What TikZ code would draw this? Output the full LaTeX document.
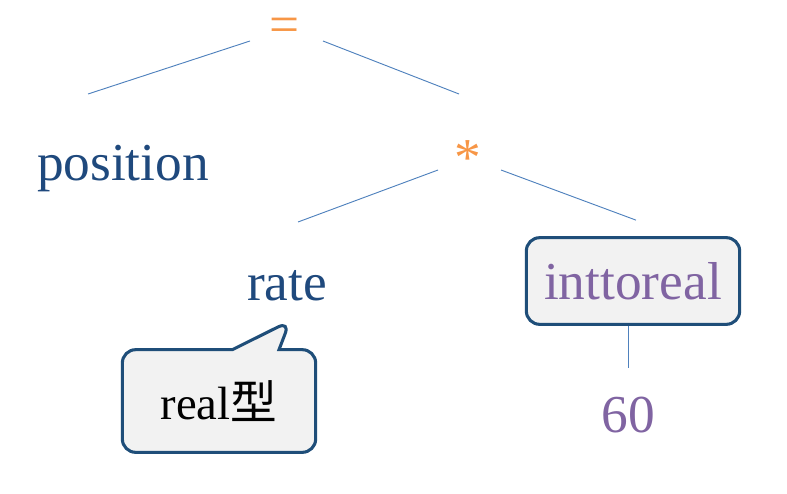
\documentclass[tikz,border=0pt]{standalone}
\usepackage{fontspec}
\setmainfont{Liberation Serif}
\newfontfamily\cjk{Noto Sans CJK JP}
\usetikzlibrary{calc,shapes.callouts,positioning}
\definecolor{treeblue}{HTML}{1F497D}
\definecolor{oporange}{HTML}{F79646}
\definecolor{convpurple}{HTML}{8064A2}
\definecolor{edgeblue}{HTML}{4F81BD}
\definecolor{boxgray}{HTML}{F2F2F2}
\definecolor{boxborder}{HTML}{1F4E79}

\begin{document}
\begin{tikzpicture}[x=0.75pt,y=-0.75pt,every node/.style={font=\fontsize{40}{48}\selectfont,inner sep=0pt},
  leaf/.style={text=treeblue,anchor=base},
  op/.style={text=oporange},
  conv/.style={text=convpurple},
  edge/.style={draw=edgeblue,line width=0.7pt},
  framed/.style={fill=boxgray,draw=boxborder,line width=2.3pt,rounded corners=10pt}]
\useasboundingbox (0,0) rectangle (787,493);
\node[op] (eq) at (285,30) {=};
\node[leaf] (pos) at (123,180) {position};
\node[op] (mul) at (468,158) {*};
\node[leaf] (rate) at (287,300) {rate};
\node[conv,framed,minimum width=160pt,minimum height=65pt] (itr) at (633,281) {inttoreal};
\node[conv,anchor=base] (sixty) at (628,432) {60};
\node[framed,rectangle callout,callout absolute pointer={($(rate.base)+(3,21)$)},callout pointer width=35pt,
  minimum width=145pt,minimum height=77pt,font=\fontsize{35}{40}\selectfont] (note) at (219,401) {real{\cjk 型}};
\draw[edge] ($(eq)+(-35,11)$)--($(pos.base)+(-35,-86)$);
\draw[edge] ($(eq)+(38,11)$)--($(mul)+(-9,-64)$);
\draw[edge] ($(mul)+(-30,12)$)--($(rate.base)+(11,-78)$);
\draw[edge] ($(mul)+(33,12)$)--($(itr.north)+(3,-16)$);
\draw[edge] ($(itr.south)+(-5,0)$)--($(sixty.base)+(0,-64)$);
\end{tikzpicture}
\end{document}
